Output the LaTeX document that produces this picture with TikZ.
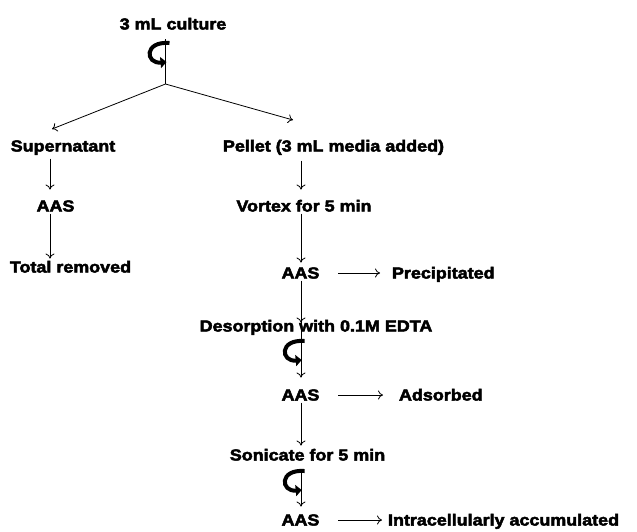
\documentclass[tikz,border=0pt]{standalone}
\usepackage{fontspec}
\newfontfamily\lblfont{Liberation Sans Bold}[FakeStretch=1.12, FakeBold=3]
\usetikzlibrary{arrows.meta}
\tikzset{
  lbl/.style={inner sep=0pt, outer sep=0pt, text height=11pt, text depth=0pt,
              font=\lblfont\fontsize{16}{19}\selectfont},
  arr/.style={-{To[length=5pt,width=9pt]}, line width=0.8pt},
  ln/.style={line width=0.8pt},
  rotsym/.pic={\draw[line width=4pt, -{Triangle[length=6pt,width=11pt]}]
     (4,-11) .. controls (-22,-13) and (-20,10) .. (1,8);}
}
\begin{document}
\begin{tikzpicture}[x=1pt,y=-1pt]
\useasboundingbox (0,0) rectangle (637,531);
% axes
\coordinate (xL) at (50,0);
\coordinate (xR) at (301,0);
% nodes
\node[lbl] (culture) at (173,24) {3 mL culture};
\node[lbl] (sup) at (63,146) {Supernatant};
\node[lbl] (aasL) at (55.5,206) {AAS};
\node[lbl] (total) at (70.5,267) {Total removed};
\node[lbl] (pellet) at (333.5,146) {Pellet (3 mL media added)};
\node[lbl] (vortex) at (304,206) {Vortex for 5 min};
\node[lbl] (aas1) at (300.5,273) {AAS};
\node[lbl,anchor=west] (precip) at (392,273) {Precipitated};
\node[lbl] (desorp) at (316,326) {Desorption with 0.1M EDTA};
\node[lbl] (aas2) at (300.5,395) {AAS};
\node[lbl,anchor=west] (adsorbed) at (399,395) {Adsorbed};
\node[lbl] (sonicate) at (307.5,455) {Sonicate for 5 min};
\node[lbl] (aas3) at (300.5,520) {AAS};
\node[lbl,anchor=west] (intra) at (388,520) {Intracellularly accumulated};
% top split
\coordinate (t0) at (165.5,39);
\coordinate (br) at (165.5,84);
\coordinate (tipL) at (52,129);
\coordinate (tipR) at (293,120);
\draw[ln] (t0) -- (br);
\draw[arr] (br) -- (tipL);
\draw[arr] (br) -- (tipR);
\pic at (165.5,54) {rotsym};
% left column
\draw[arr, shorten <=7pt, shorten >=11pt] (xL |- sup.south) -- (xL |- aasL.north);
\draw[arr, shorten <=2pt, shorten >=3pt] (xL |- aasL.south) -- (xL |- total.north);
% right column
\draw[arr, shorten <=9pt, shorten >=11pt] (xR |- pellet.south) -- (xR |- vortex.north);
\draw[arr, shorten <=2pt, shorten >=5pt] (xR |- vortex.south) -- (xR |- aas1.north);
\draw[arr, shorten <=2pt, shorten >=-2pt] (xR |- aas1.south) -- (xR |- desorp.north);
\draw[arr, shorten >=12pt] (xR |- desorp.north) -- (xR |- aas2.north);
\pic at (300.7,352) {rotsym};
\draw[arr, shorten <=2pt, shorten >=4pt] (xR |- aas2.south) -- (xR |- sonicate.north);
\draw[arr, shorten <=12pt, shorten >=8pt] (xR |- sonicate.south) -- (xR |- aas3.north);
\pic at (300.7,482) {rotsym};
% horizontal arrows
\draw[arr, shorten <=19pt, shorten >=12pt] (aas1) -- (precip);
\draw[arr, shorten <=19pt, shorten >=16pt] (aas2) -- (adsorbed);
\draw[arr, shorten <=19pt, shorten >=6pt] (aas3) -- (intra);
\end{tikzpicture}
\end{document}
